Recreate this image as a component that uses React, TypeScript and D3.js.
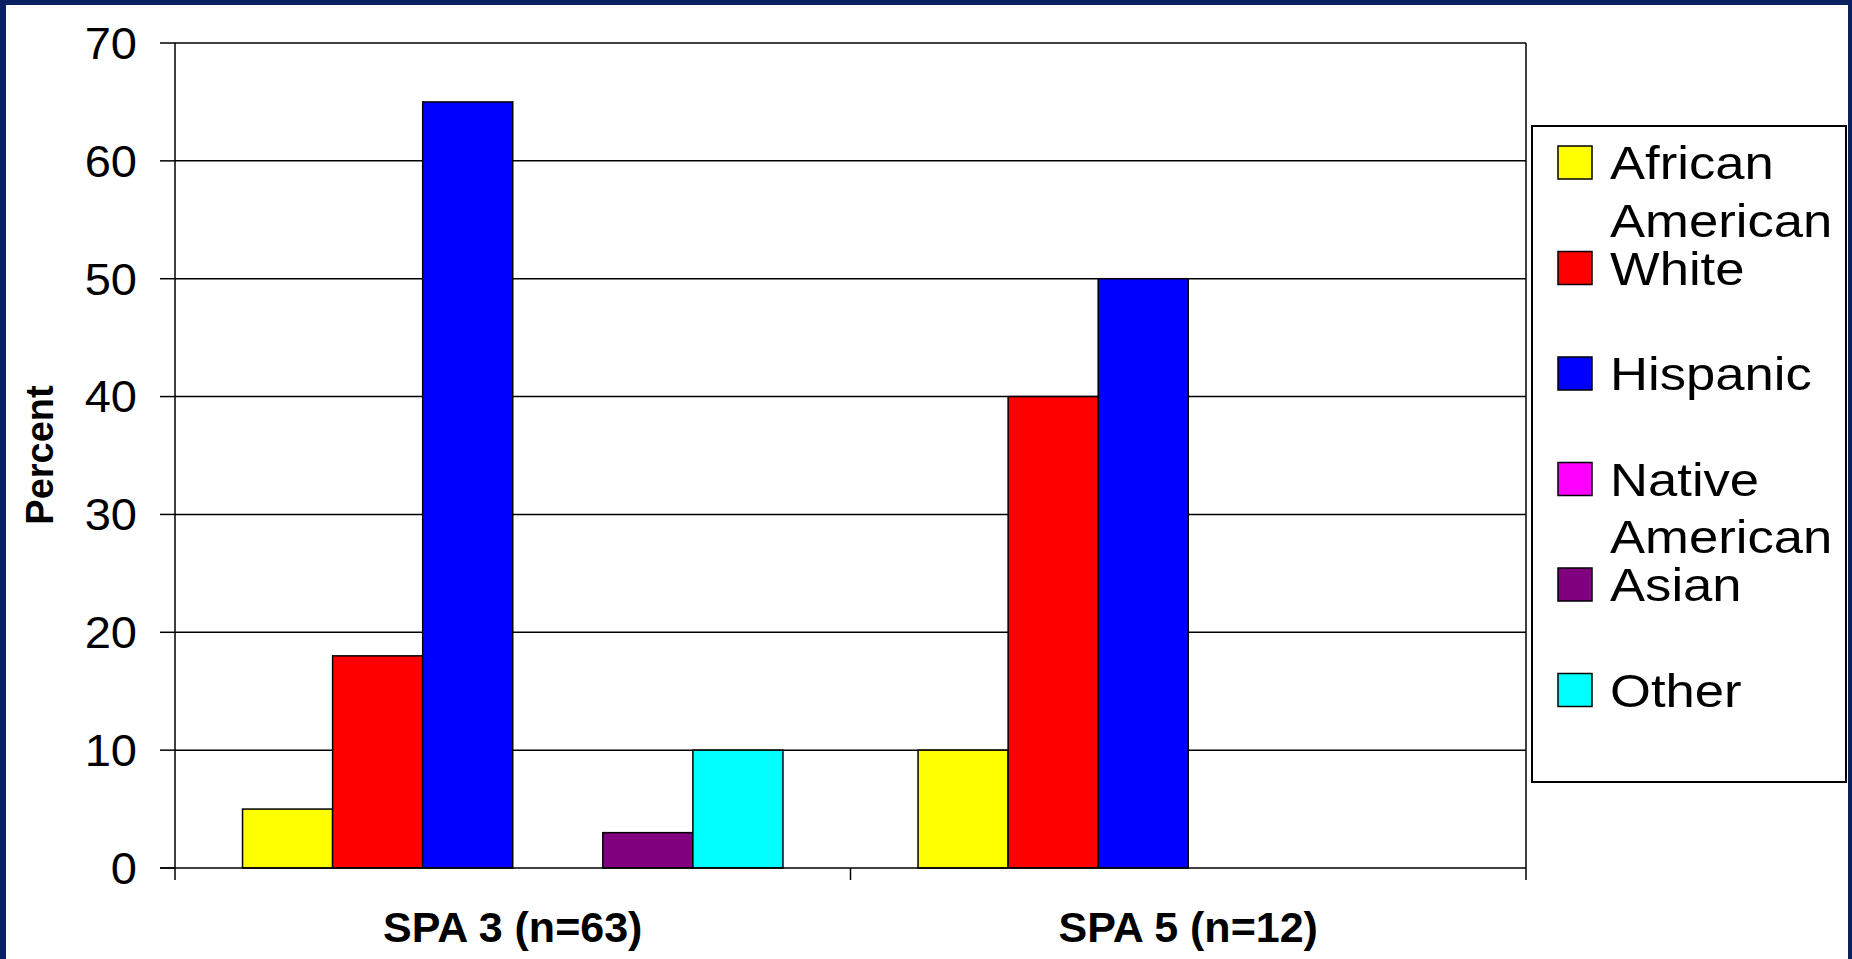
import React from 'react';
import * as d3 from 'd3';

const categories = ['SPA 3 (n=63)', 'SPA 5 (n=12)'];
const seriesNames = ['African American', 'White', 'Hispanic', 'Native American', 'Asian', 'Other'];
const africanAmerican = [5, 10];
const white = [18, 40];
const hispanic = [65, 50];
const nativeAmerican = [0, 0];
const asian = [3, 0];
const other = [10, 0];
const seriesColors = ['#ffff00', '#ff0000', '#0000ff', '#ff00ff', '#800080', '#00ffff'];
const yTicks = [0, 10, 20, 30, 40, 50, 60, 70];

const seriesValues = [africanAmerican, white, hispanic, nativeAmerican, asian, other];

const W = 1852;
const H = 959;
const FONT = "'Liberation Sans', Arial, sans-serif";

const App: React.FC = () => {
  const left = 175;
  const right = 1526;
  const top = 43;
  const bottom = 868;

  const y = d3.scaleLinear().domain([0, 70]).range([bottom, top]);
  const x0 = d3.scaleBand<string>().domain(categories).range([left, right]).padding(0);
  // Excel-style gap width of 150%: half a gap on each side of the bar group
  const x1 = d3
    .scaleBand<string>()
    .domain(seriesNames)
    .range([0, x0.bandwidth()])
    .paddingInner(0)
    .paddingOuter(0.75);

  const legendX = 1532;
  const legendY = 126;
  const rowStep = 105.5;
  const firstBaseline = 179;

  return (
    <svg width={W} height={H} style={{ position: 'absolute', left: 0, top: 0 }} fontFamily={FONT}>
      <rect x={0} y={0} width={W} height={H} fill="#ffffff" />
      {/* slide frame */}
      <rect x={0} y={0} width={6} height={H} fill="#0b2060" />
      <rect x={0} y={0} width={W} height={5} fill="#0b2060" />
      <rect x={W - 4} y={0} width={4} height={H} fill="#0b2060" />

      {/* gridlines + y ticks */}
      {yTicks.map((t) => (
        <g key={t}>
          {t > 0 && <line x1={left} x2={right} y1={y(t)} y2={y(t)} stroke="#000" strokeWidth={1.5} />}
          <line x1={left - 15} x2={left} y1={y(t)} y2={y(t)} stroke="#000" strokeWidth={1.5} />
          <text
            transform={`translate(137, ${y(t)}) scale(1.07, 1)`}
            textAnchor="end"
            dy="0.36em"
            fontSize={44}
            fill="#000"
          >
            {t}
          </text>
        </g>
      ))}

      {/* plot area border */}
      <line x1={right} x2={right} y1={top} y2={bottom} stroke="#000" strokeWidth={1.5} />

      {/* bars */}
      {categories.map((c, ci) => (
        <g key={c} transform={`translate(${x0(c)}, 0)`}>
          {seriesNames.map((s, si) => {
            const v = seriesValues[si][ci];
            if (!v) return null;
            return (
              <rect
                key={s}
                x={x1(s)}
                y={y(v)}
                width={x1.bandwidth()}
                height={y(0) - y(v)}
                fill={seriesColors[si]}
                stroke="#000"
                strokeWidth={1.5}
              />
            );
          })}
        </g>
      ))}

      {/* axes */}
      <line x1={left} x2={left} y1={top} y2={bottom + 12} stroke="#000" strokeWidth={1.5} />
      <line x1={left - 15} x2={right} y1={bottom} y2={bottom} stroke="#000" strokeWidth={1.5} />
      {[...categories.map((c) => x0(c) as number), right].map((xv, i) =>
        i === 0 ? null : (
          <line key={i} x1={xv} x2={xv} y1={bottom} y2={bottom + 12} stroke="#000" strokeWidth={1.5} />
        )
      )}
      {categories.map((c) => (
        <text
          key={c}
          x={(x0(c) as number) + x0.bandwidth() / 2}
          y={942}
          textAnchor="middle"
          fontSize={43}
          fontWeight="bold"
          fill="#000"
        >
          {c}
        </text>
      ))}

      <text
        transform="translate(53, 455) rotate(-90)"
        textAnchor="middle"
        fontSize={38}
        fontWeight="bold"
        fill="#000"
      >
        Percent
      </text>

      {/* legend */}
      <rect
        x={legendX}
        y={legendY}
        width={1846 - legendX}
        height={782 - legendY}
        fill="#fff"
        stroke="#000"
        strokeWidth={2}
      />
      {seriesNames.map((s, i) => {
        const base = firstBaseline + i * rowStep;
        const words = s.split(' ');
        return (
          <g key={s}>
            <rect x={1558} y={base - 33} width={34} height={33} fill={seriesColors[i]} stroke="#000" strokeWidth={1.5} />
            <text transform={`translate(1610, ${base}) scale(1.12, 1)`} fontSize={47} fill="#000">
              {words.map((w, wi) => (
                <tspan key={wi} x={0} dy={wi === 0 ? 0 : 58}>
                  {w}
                </tspan>
              ))}
            </text>
          </g>
        );
      })}
    </svg>
  );
};

export default App;
